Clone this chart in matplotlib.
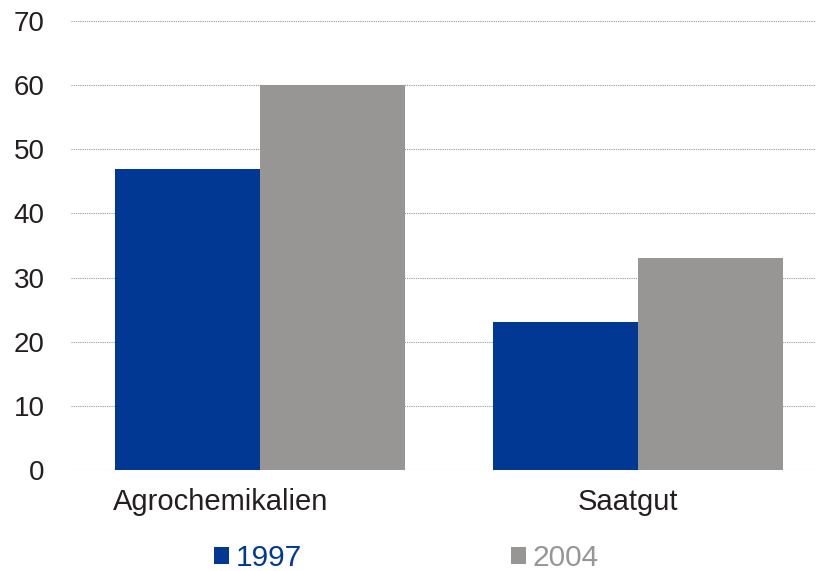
import matplotlib
matplotlib.use("Agg")
import matplotlib.pyplot as plt
import matplotlib.transforms as mtransforms
from matplotlib.patches import Patch
import numpy as np

plt.rcParams['font.family'] = ['Liberation Sans', 'DejaVu Sans']

categories = ["Agrochemikalien", "Saatgut"]
series_names = ["1997", "2004"]
values_1997 = [47, 23]
values_2004 = [60, 33]
y_ticks = [0, 10, 20, 30, 40, 50, 60, 70]

blue = "#003893"
gray = "#979695"
text_color = "#231f20"

fig = plt.figure(figsize=(8.16, 5.71), dpi=100)
ax = fig.add_axes([0.087, 0.177, 0.913, 0.786])

x = np.arange(len(categories))
w = 0.383
ax.bar(x - w / 2, values_1997, width=w, color=blue, zorder=3)
ax.bar(x + w / 2, values_2004, width=w, color=gray, zorder=3)

ax.set_ylim(0, 70)
ax.set_xlim(-0.5, 1.47)
ax.set_yticks(y_ticks)
ax.set_yticklabels([str(t) for t in y_ticks])
ax.set_xticks(x)
ax.set_xticklabels(categories)
ax.tick_params(axis='y', length=0, pad=19, labelsize=20, labelcolor=text_color)
ax.tick_params(axis='x', length=0, pad=13, labelsize=21, labelcolor=text_color)

# category labels sit slightly left of the group centres
label_shifts_px = [-39, -10]
for lab, dx in zip(ax.get_xticklabels(), label_shifts_px):
    lab.set_transform(lab.get_transform() +
                      mtransforms.ScaledTranslation(dx / 100, 0, fig.dpi_scale_trans))

for s in ax.spines.values():
    s.set_visible(False)
ax.yaxis.grid(True, linestyle=(0, (1, 1)), color="#999999", linewidth=0.8, zorder=0)
ax.set_axisbelow(True)

handles = [Patch(facecolor=blue, edgecolor='none'), Patch(facecolor=gray, edgecolor='none')]
leg = fig.legend(handles, series_names, loc='center', bbox_to_anchor=(0.498, 0.023),
                 ncol=2, frameon=False, fontsize=21.5, handlelength=0.5, handleheight=0.5,
                 handletextpad=0.23, columnspacing=7.0, labelcolor=[blue, gray],
                 borderpad=0.2)

fig.savefig("out.png", dpi=100)
